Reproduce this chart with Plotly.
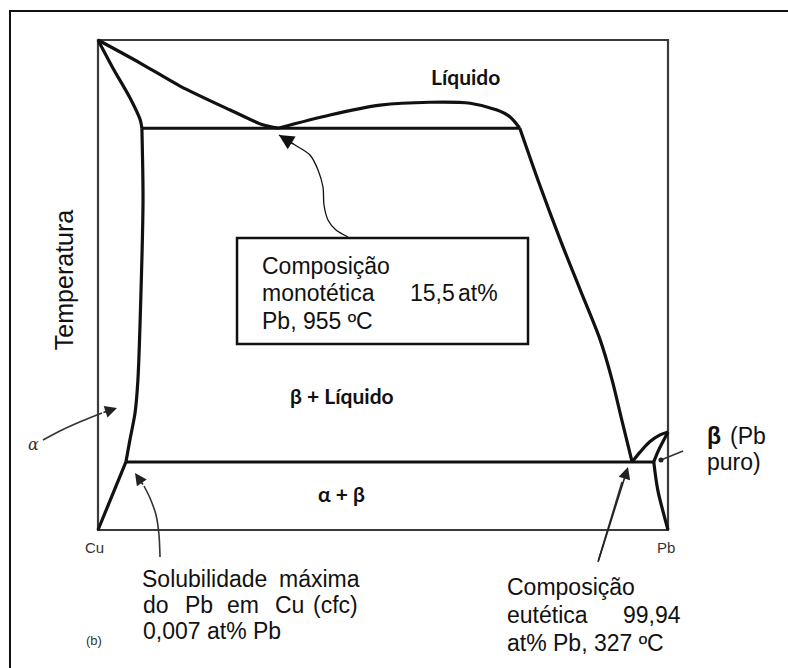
import plotly.graph_objects as go

# ---- schematic Cu-Pb phase diagram data (x: at% Pb, schematic; y: relative temperature 0-100) ----
cu_liquidus_x = [0, 7.4, 14.4, 23.2, 28.9, 31.6]
cu_liquidus_y = [100, 95.3, 90.6, 85.7, 82.7, 82.0]

cu_solidus_x = [0, 2.6, 5.6, 7.4, 7.7]
cu_solidus_y = [100, 94.3, 88.2, 83.7, 82.0]

alpha_solvus_x = [7.7, 7.9, 7.5, 7.0, 6.5, 5.6, 4.9]
alpha_solvus_y = [82.0, 67.3, 46.9, 30.6, 23.9, 18.4, 13.9]

alpha_low_x = [4.9, 0]
alpha_low_y = [13.9, 0]

monotectic_x = [7.7, 74.0]
monotectic_y = [82.0, 82.0]

dome_x = [31.6, 40.7, 49.5, 58.2, 65.3, 70.0, 72.3, 74.0]
dome_y = [82.0, 84.7, 86.7, 87.3, 87.1, 85.7, 84.3, 82.0]

right_liquidus_x = [74.0, 77.5, 81.1, 84.6, 88.1, 90.2, 91.9, 93.7]
right_liquidus_y = [82.0, 70.4, 59.2, 49.0, 38.8, 30.6, 22.4, 13.9]

eutectic_x = [4.9, 97.5]
eutectic_y = [13.9, 13.9]

pb_liquidus_x = [93.7, 95.1, 96.8, 98.6, 100]
pb_liquidus_y = [13.9, 15.9, 18.0, 19.4, 20.0]

beta_solvus_x = [100, 99.1, 98.2, 97.5]
beta_solvus_y = [20.0, 18.0, 15.9, 13.9]

beta_low_x = [97.5, 98.2, 100]
beta_low_y = [13.9, 8.2, 0]

# annotation pointer curves (tail ... head base), and tips
mono_arrow_x = [43.86, 41.75, 40.35, 39.65, 39.47, 38.60, 37.19, 34.56]
mono_arrow_y = [59.80, 61.22, 63.27, 66.33, 70.00, 73.47, 76.53, 78.57]
mono_tip = (31.75, 80.61)

alpha_arrow_x = [-9.65, -6.32, -2.81, 0.70]
alpha_arrow_y = [18.37, 20.41, 22.24, 23.88]
alpha_tip = (3.33, 24.90)

sol_arrow_x = [10.88, 10.70, 10.18, 9.12, 8.07]
sol_arrow_y = [-5.51, -1.02, 3.06, 6.53, 8.98]
sol_tip = (6.49, 11.63)

eut_arrow_x = [87.72, 91.93]
eut_arrow_y = [-6.53, 9.80]
eut_tip = (92.98, 12.86)

beta_ptr_x = [102.63, 98.77]
beta_ptr_y = [16.12, 14.29]

X_RANGE = [-17.193, 121.053]
Y_RANGE = [-28.163, 108.163]

fig = go.Figure()

def curve(x, y, width=3.2, color="#111111", spline=True):
    fig.add_trace(go.Scatter(
        x=x, y=y, mode="lines",
        line=dict(color=color, width=width, shape="spline" if spline else "linear", smoothing=0.8),
        hoverinfo="skip", showlegend=False))

curve(cu_liquidus_x, cu_liquidus_y)
curve(cu_solidus_x, cu_solidus_y)
curve(alpha_solvus_x, alpha_solvus_y)
curve(alpha_low_x, alpha_low_y, spline=False)
curve(monotectic_x, monotectic_y, width=3, spline=False)
curve(dome_x, dome_y)
curve(right_liquidus_x, right_liquidus_y)
curve(eutectic_x, eutectic_y, width=3, spline=False)
curve(pb_liquidus_x, pb_liquidus_y)
curve(beta_solvus_x, beta_solvus_y)
curve(beta_low_x, beta_low_y)

# pointer lines
curve(mono_arrow_x + [mono_tip[0]], mono_arrow_y + [mono_tip[1]], width=1.3)
curve(alpha_arrow_x, alpha_arrow_y, width=1.6, color="#333333")
curve(sol_arrow_x, sol_arrow_y, width=1.6, color="#333333")
curve(eut_arrow_x, eut_arrow_y, width=1.6, color="#333333", spline=False)
fig.add_trace(go.Scatter(x=beta_ptr_x, y=beta_ptr_y, mode="lines",
                         line=dict(color="#333333", width=1.6),
                         hoverinfo="skip", showlegend=False))
fig.add_trace(go.Scatter(x=[beta_ptr_x[-1]], y=[beta_ptr_y[-1]], mode="markers",
                         marker=dict(color="#222222", size=5),
                         hoverinfo="skip", showlegend=False))

def arrowhead(tail_x, tail_y, tip, size, width, color="#111111"):
    fig.add_annotation(x=tip[0], y=tip[1], ax=tail_x, ay=tail_y,
                       xref="x", yref="y", axref="x", ayref="y",
                       text="", showarrow=True, arrowhead=2,
                       arrowsize=size, arrowwidth=width, arrowcolor=color)

arrowhead(mono_arrow_x[-1], mono_arrow_y[-1], mono_tip, 2.3, 1.3)
arrowhead(alpha_arrow_x[-1], alpha_arrow_y[-1], alpha_tip, 1.5, 1.6, "#222222")
arrowhead(sol_arrow_x[-1], sol_arrow_y[-1], sol_tip, 1.5, 1.6, "#222222")
arrowhead(eut_arrow_x[0], eut_arrow_y[0], eut_tip, 1.5, 1.6, "#222222")

# frames
fig.add_shape(type="rect", xref="x", yref="y", x0=0, x1=100, y0=0, y1=100,
              line=dict(color="#3a3a3a", width=2.2), layer="below")
fig.add_shape(type="rect", xref="x", yref="y", x0=-15.44, x1=121.4, y0=-28.6, y1=105.92,
              line=dict(color="#111111", width=2))
fig.add_shape(type="rect", xref="x", yref="y", x0=24.39, x1=75.44, y0=37.96, y1=59.59,
              line=dict(color="#111111", width=2.5), fillcolor="white", layer="above")

ARIAL = "Liberation Sans, Arial, sans-serif"
BOLD = "Lato, Open Sans, sans-serif"
FS = 23

def txt(x, y, s, size=FS, family=ARIAL, anchor="left", color="#111111", angle=0):
    fig.add_annotation(x=x, y=y, xref="x", yref="y", text=s, showarrow=False,
                       xanchor=anchor, yanchor="middle", textangle=angle,
                       font=dict(family=family, size=size, color=color))

# region labels
txt(64.56, 92.45, "<b>Líquido</b>", 21, BOLD, "center")
txt(42.8, 27.35, "<b>β + Líquido</b>", 21, BOLD, "center")
txt(42.8, 7.55, "<b>α + β</b>", 21, BOLD, "center")

# axis labels
txt(-5.96, 51.0, "Temperatura", 25, ARIAL, "center", angle=-90)
txt(-0.53, -3.67, "Cu", 15, ARIAL, "center", "#333333")
txt(99.65, -3.47, "Pb", 15, ARIAL, "center", "#333333")
txt(-0.70, -22.45, "(b)", 13, ARIAL, "center", "#333333")
txt(-11.4, 17.55, "<i>α</i>", 16, "DejaVu Serif, serif", "center", "#333333")

# box text
txt(28.42, 53.88, "Composição")
txt(28.42, 48.37, "monotética")
txt(54.39, 48.37, "15,5")
txt(70.53, 48.37, "at%", anchor="right")
txt(28.42, 42.65, "Pb, 955 ºC")

# bottom-left text
txt(7.4, -10.0, "Solubilidade")
txt(31.4, -10.0, "máxima")
txt(7.6, -15.31, "do")
txt(14.91, -15.31, "Pb")
txt(22.28, -15.31, "em")
txt(30.7, -15.31, "Cu")
txt(37.37, -15.31, "(cfc)")
txt(7.6, -20.61, "0,007 at% Pb")

# bottom-right text
txt(71.4, -11.63, "Composição")
txt(71.4, -17.35, "eutética")
txt(102.63, -17.35, "99,94", anchor="right")
txt(71.4, -23.06, "at% Pb, 327 ºC")

# beta label
txt(106.5, 19.18, "<b>β</b>")
txt(117.54, 19.18, "(Pb", anchor="right")
txt(106.5, 13.88, "puro)")

fig.update_layout(
    width=788, height=668, autosize=False,
    margin=dict(l=0, r=0, t=0, b=0, pad=0),
    paper_bgcolor="white", plot_bgcolor="white",
    showlegend=False,
    xaxis=dict(range=X_RANGE, visible=False, fixedrange=True),
    yaxis=dict(range=Y_RANGE, visible=False, fixedrange=True),
)

fig.write_html("out.html")
